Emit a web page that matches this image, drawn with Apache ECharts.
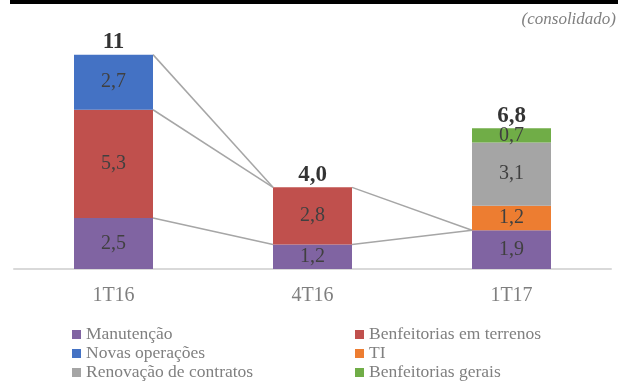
<!DOCTYPE html>
<html>
<head>
<meta charset="utf-8">
<script src="https://cdn.jsdelivr.net/npm/echarts@6/dist/echarts.min.js"></script>
<style>
	html, body { margin: 0; padding: 0; background: #fff; }
	#chart { width: 618px; height: 381px; }
</style>
</head>
<body>
<div id="chart"></div>
<script type="text/javascript">
	// dados (R$ milhões)
	var categorias = ['1T16', '4T16', '1T17'];
	var manutencao = [2.5, 1.2, 1.9];
	var benfTerrenos = [5.3, 2.8, 0];
	var novasOperacoes = [2.7, 0, 0];
	var ti = [0, 0, 1.2];
	var renovacao = [0, 0, 3.1];
	var benfGerais = [0, 0, 0.7];
	var totalLabels = ['11', '4,0', '6,8'];

	var serif = '"Liberation Serif", "DejaVu Serif", serif';
	var BAR_W = 79;

	// ordem de empilhamento (de baixo para cima)
	var pilha = [
		{ name: 'Manutenção', data: manutencao, color: '#8064a2' },
		{ name: 'Benfeitorias em terrenos', data: benfTerrenos, color: '#c0504d' },
		{ name: 'Novas operações', data: novasOperacoes, color: '#4472c4' },
		{ name: 'TI', data: ti, color: '#ed7d31' },
		{ name: 'Renovação de contratos', data: renovacao, color: '#a5a5a5' },
		{ name: 'Benfeitorias gerais', data: benfGerais, color: '#70ad47' }
	];

	// acumulados por categoria
	var acum = pilha.map(function (s, k) {
		return categorias.map(function (c, i) {
			var soma = 0;
			for (var j = 0; j <= k; j++) soma += pilha[j].data[i];
			return soma;
		});
	});
	var totais = acum[acum.length - 1];

	// linhas de ligação entre barras vizinhas
	var ligacoes = [];
	for (var i = 0; i < categorias.length - 1; i++) {
		pilha.forEach(function (s, k) {
			if (s.data[i] > 0) ligacoes.push([i, acum[k][i], acum[k][i + 1]]);
		});
	}

	var series = pilha.map(function (s) {
		return {
			name: s.name,
			type: 'bar',
			stack: 'total',
			barWidth: BAR_W,
			data: s.data,
			itemStyle: { color: s.color },
			label: {
				show: true,
				position: 'inside',
				color: '#404040',
				fontFamily: serif,
				fontSize: 20,
				formatter: function (p) {
					return p.value > 0 ? p.value.toFixed(1).replace('.', ',') : '';
				}
			},
			z: 3
		};
	});

	series.push({
		type: 'custom',
		data: ligacoes,
		silent: true,
		z: 1,
		renderItem: function (params, api) {
			var a = api.coord([api.value(0), api.value(1)]);
			var b = api.coord([api.value(0) + 1, api.value(2)]);
			return {
				type: 'line',
				shape: { x1: a[0] + BAR_W / 2, y1: a[1], x2: b[0] - BAR_W / 2, y2: b[1] },
				style: { stroke: '#a6a6a6', lineWidth: 1.5 }
			};
		}
	});

	series.push({
		type: 'scatter',
		data: totais,
		symbolSize: 0,
		silent: true,
		label: {
			show: true,
			position: 'top',
			distance: 1,
			color: '#000',
			fontFamily: serif,
			fontWeight: 'bold',
			fontSize: 23,
			formatter: function (p) { return totalLabels[p.dataIndex]; }
		}
	});

	var legendaBase = {
		orient: 'vertical',
		itemWidth: 9,
		itemHeight: 9,
		itemGap: 0,
		padding: 0,
		height: 60,
		icon: 'rect',
		textStyle: { color: '#808080', fontFamily: serif, fontSize: 17.5, lineHeight: 19 },
		selectedMode: false
	};

	var chart = echarts.init(document.getElementById('chart'));
	chart.setOption({
		animation: false,
		grid: { left: 14, right: 7, top: 24, bottom: 112 },
		xAxis: {
			type: 'category',
			data: categorias,
			axisLine: { lineStyle: { color: '#d9d9d9', width: 2 } },
			axisTick: { show: false },
			axisLabel: { color: '#7f7f7f', fontFamily: serif, fontSize: 20, margin: 17 }
		},
		yAxis: { type: 'value', min: 0, max: 12, show: false },
		legend: [
			Object.assign({}, legendaBase, {
				left: 72, top: 325,
				data: ['Manutenção', 'Novas operações', 'Renovação de contratos']
			}),
			Object.assign({}, legendaBase, {
				left: 355, top: 325,
				data: ['Benfeitorias em terrenos', 'TI', 'Benfeitorias gerais']
			})
		],
		graphic: [
			{ type: 'rect', left: 10, top: 0, shape: { width: 608, height: 4 }, style: { fill: '#000' } },
			{
				type: 'text', right: 2, top: 11,
				style: { text: '(consolidado)', fill: '#808080', font: 'italic 17px ' + serif }
			}
		],
		series: series
	});
</script>
</body>
</html>
